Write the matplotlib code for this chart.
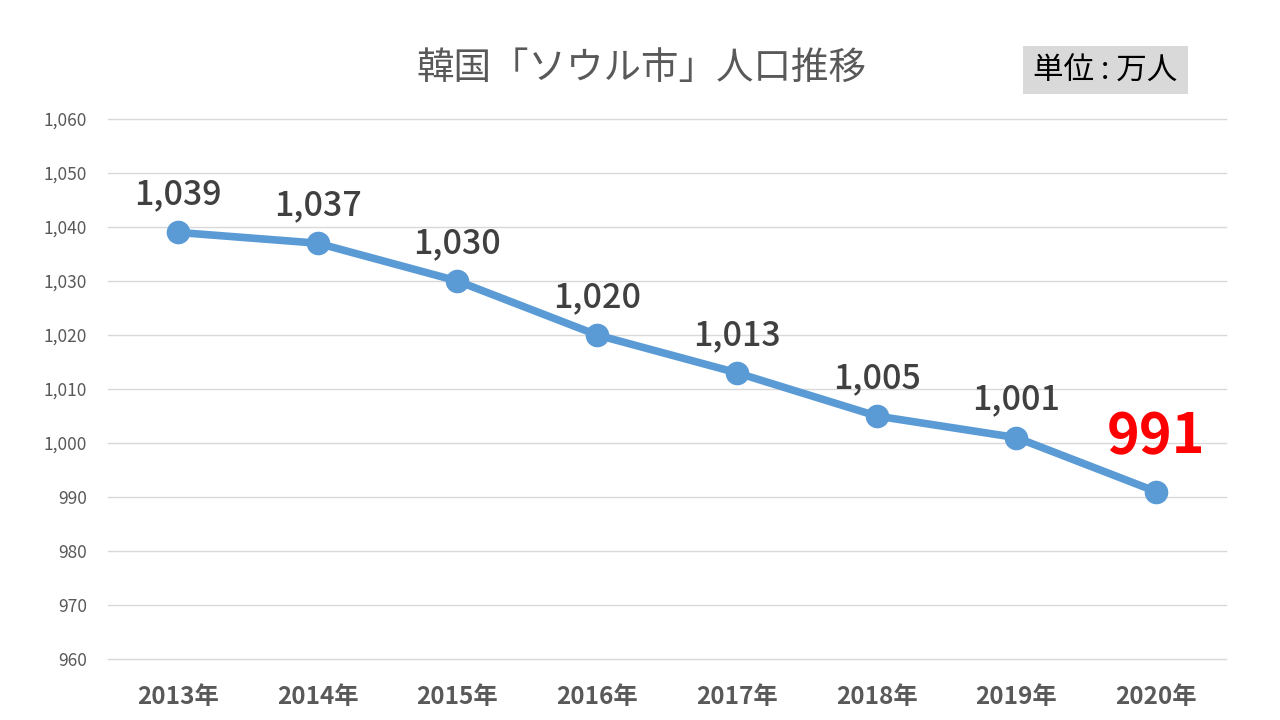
import matplotlib
matplotlib.use("Agg")
import matplotlib.pyplot as plt
from matplotlib.patches import Rectangle

plt.rcParams["font.family"] = ["Noto Sans CJK JP", "DejaVu Sans"]

years = ["2013年", "2014年", "2015年", "2016年", "2017年", "2018年", "2019年", "2020年"]
population = [1039, 1037, 1030, 1020, 1013, 1005, 1001, 991]
y_ticks = list(range(960, 1061, 10))

LINE_COLOR = "#5B9BD5"
GREY = "#595959"


def main():
    fig = plt.figure(figsize=(12.8, 7.2), dpi=100)
    fig.patch.set_facecolor("white")
    ax = fig.add_axes([108 / 1280, 1 - 659 / 720, (1226 - 108) / 1280, (659 - 119) / 720])

    x = list(range(len(years)))
    ax.plot(x, population, color=LINE_COLOR, linewidth=5.5, marker="o",
            markersize=16, markerfacecolor=LINE_COLOR, markeredgecolor=LINE_COLOR,
            solid_capstyle="round", zorder=3)

    for i, val in enumerate(population):
        if i == len(population) - 1:
            ax.annotate(f"{val:,}", (i, val), xytext=(0, 39), textcoords="offset points",
                        ha="center", va="center", fontsize=40, fontweight="bold",
                        color="#FF0000")
        else:
            ax.annotate(f"{val:,}", (i, val), xytext=(0, 27), textcoords="offset points",
                        ha="center", va="center", fontsize=24.5, fontweight="medium",
                        color="#404040")

    ax.set_xlim(-0.5, len(years) - 0.5)
    ax.set_ylim(960, 1060)
    ax.set_yticks(y_ticks)
    ax.set_yticklabels([f"{v:,}" for v in y_ticks], fontsize=12.5, color=GREY)
    ax.set_xticks(x)
    ax.set_xticklabels(years, fontsize=17.5, fontweight="bold", color=GREY)
    ax.tick_params(axis="y", length=0, pad=15)
    ax.tick_params(axis="x", length=0, pad=19)

    ax.yaxis.grid(True, color="#D9D9D9", linewidth=1)
    for gl in ax.yaxis.get_gridlines():
        gl.set_clip_on(False)
    ax.set_axisbelow(True)
    for side in ["top", "right", "left", "bottom"]:
        ax.spines[side].set_visible(False)

    fig.text(641 / 1280, 1 - 68 / 720, "韓国「ソウル市」人口推移", ha="center", va="center",
             fontsize=27, color=GREY)

    fig.patches.append(Rectangle((1023 / 1280, 1 - 94 / 720), 165 / 1280, 48 / 720,
                                 transform=fig.transFigure, facecolor="#D9D9D9",
                                 edgecolor="none", zorder=1))
    fig.text(1105 / 1280, 1 - 71 / 720, "単位 : 万人", ha="center", va="center",
             fontsize=22, color="#000000", zorder=2)

    fig.savefig("out.png", dpi=100)
    plt.close(fig)


if __name__ == "__main__":
    main()
